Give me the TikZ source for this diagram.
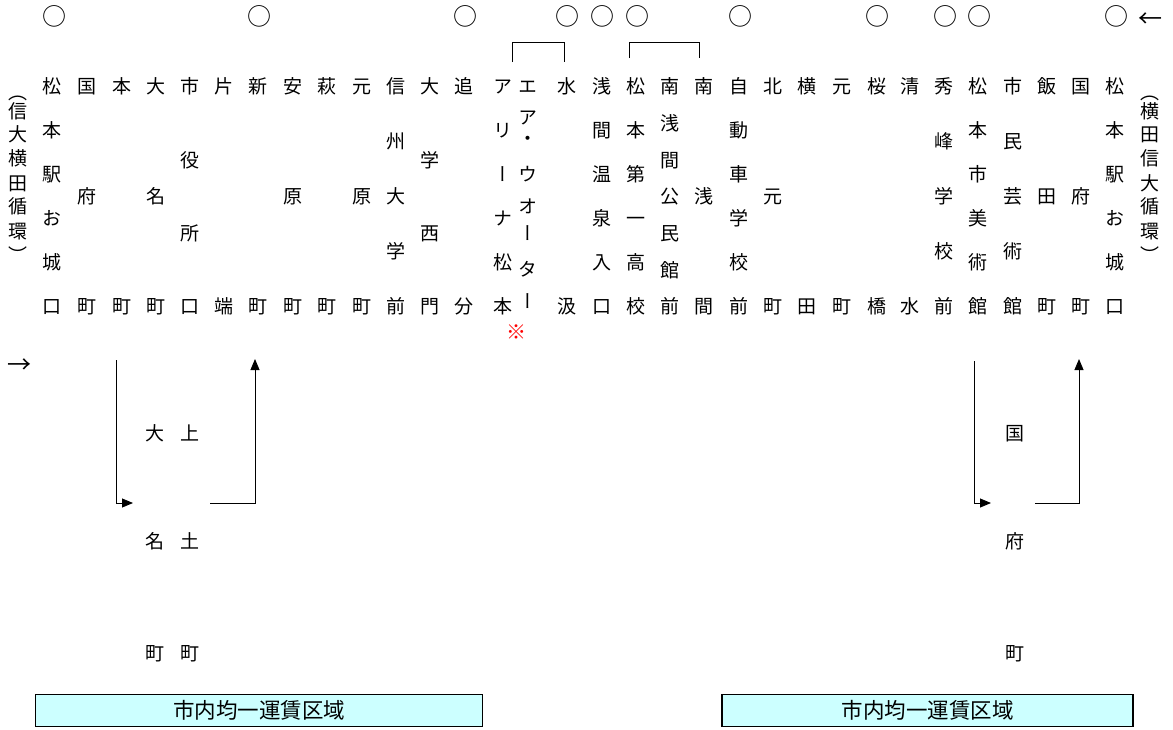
\documentclass[tikz,border=0pt]{standalone}
\usepackage{fontspec}
\newfontfamily\jp{Noto Sans CJK JP}
\newfontfamily\jpv[RawFeature={+vert}]{Noto Sans CJK JP}
\usetikzlibrary{arrows.meta}
\definecolor{zonefill}{HTML}{CCFFFF}
\tikzset{
  st/.style={font=\jpv\fontsize{19}{19}\selectfont, inner sep=0pt, anchor=center,
    text height=0.88em, text depth=0.12em, yshift=-5pt},
  stopmark/.style={font=\jp\fontsize{24}{24}\selectfont, inner sep=0pt},
  notemark/.style={font=\jp\fontsize{20}{20}\selectfont, inner sep=0pt, text=red},
  arrowtxt/.style={font=\jp\fontsize{24}{24}\selectfont, inner sep=0pt},
  zone/.style={draw=black, line width=1.8pt, fill=zonefill, inner sep=0pt,
    font=\jp\fontsize{21.5}{21.5}\selectfont},
  brk/.style={line width=0.9pt},
  looparrow/.style={line width=0.9pt, -{Triangle[length=11pt,width=9pt]}},
}
\newcommand\stcol[4]{%
  \foreach \ch [count=\i] in {#4}{%
    \node[st] (#1-\i) at (#2,{85+(\i-1)*220/(#3-1)}) {\ch};
  }%
}
\newcommand\poscol[3]{%
  \foreach \yy/\ch [count=\i] in {#3}{%
    \node[st] (#1-\i) at (#2,\yy) {\ch};
  }%
}
\begin{document}
\begin{tikzpicture}[x=1pt,y=-1pt]
\useasboundingbox (0,0) rectangle (1173,729);
% circles (stops)
\foreach \cx [count=\k] in {54,259.5,465.5,567.5,602.5,637,740,877.5,945,979.5,1116}{
  \node[stopmark] (c\k) at (\cx,16.5) {○};
}
\node[arrowtxt] (arrR) at (1150.5,20) {←};
\node[arrowtxt] (arrL) at (19,366) {→};
% brackets
\coordinate (bA1) at (512,62); \coordinate (bA2) at (564,62);
\coordinate (bB1) at (629,58); \coordinate (bB2) at (699,58);
\draw[brk] (bA1) -- (bA1 |- 0,42) -- (bA2 |- 0,42) -- (bA2);
\draw[brk] (bB1) -- (bB1 |- 0,42) -- (bB2 |- 0,42) -- (bB2);
% route labels
\poscol{pL}{18.5}{91/{\jp ︵},110/信,133/大,157/横,182/田,205/循,230/環,254/{\jp ︶}}
\poscol{pR}{1150}{91/{\jp ︵},110/横,133/田,157/信,182/大,205/循,230/環,254/{\jp ︶}}
% stations
\stcol{s1}{52.3}{6}{松,本,駅,お,城,口}
\stcol{s2}{87}{3}{国,府,町}
\stcol{s3}{121.7}{2}{本,町}
\stcol{s4}{156}{3}{大,名,町}
\stcol{s5}{190}{4}{市,役,所,口}
\stcol{s6}{224}{2}{片,端}
\stcol{s7}{258.3}{2}{新,町}
\stcol{s8}{292.7}{3}{安,原,町}
\stcol{s9}{327}{2}{萩,町}
\stcol{s10}{361.5}{3}{元,原,町}
\stcol{s11}{396}{5}{信,州,大,学,前}
\stcol{s12}{430}{4}{大,学,西,門}
\stcol{s13}{464.3}{2}{追,分}
\stcol{s14}{503.3}{6}{ア,リ,ー,ナ,松,本}
\poscol{s15}{528.3}{85/エ,116/ア,137/{\jp ・},173/ウ,205/オ,232/ー,268/タ,300/ー}
\stcol{s16}{566.7}{2}{水,汲}
\stcol{s17}{601.7}{6}{浅,間,温,泉,入,口}
\stcol{s18}{636}{6}{松,本,第,一,高,校}
\stcol{s19}{670}{7}{南,浅,間,公,民,館,前}
\stcol{s20}{704}{3}{南,浅,間}
\stcol{s21}{739}{6}{自,動,車,学,校,前}
\stcol{s22}{773.3}{3}{北,元,町}
\stcol{s23}{807.3}{2}{横,田}
\stcol{s24}{841.7}{2}{元,町}
\stcol{s25}{876.7}{2}{桜,橋}
\stcol{s26}{910}{2}{清,水}
\stcol{s27}{944.3}{5}{秀,峰,学,校,前}
\stcol{s28}{978.3}{6}{松,本,市,美,術,館}
\stcol{s29}{1012.7}{5}{市,民,芸,術,館}
\stcol{s30}{1046.7}{3}{飯,田,町}
\stcol{s31}{1081}{3}{国,府,町}
\stcol{s32}{1115}{6}{松,本,駅,お,城,口}
\node[notemark] (kome) at (516,332) {※};
% lower branch stations
\poscol{b1}{155}{432/大,540/名,652/町}
\poscol{b2}{190}{432/上,540/土,652/町}
\poscol{b3}{1015}{432/国,540/府,652/町}
% loops
\coordinate (L1a) at (116,360); \coordinate (L1b) at (116,503); \coordinate (L1c) at (133,503);
\coordinate (L2a) at (210,503); \coordinate (L2b) at (255,503); \coordinate (L2c) at (255,359);
\draw[looparrow] (L1a) -- (L1b) -- (L1c);
\draw[looparrow] (L2a) -- (L2b) -- (L2c);
\coordinate (R1a) at (974,361); \coordinate (R1b) at (974,503); \coordinate (R1c) at (991,503);
\coordinate (R2a) at (1035,503); \coordinate (R2b) at (1079,503); \coordinate (R2c) at (1079,359);
\draw[looparrow] (R1a) -- (R1b) -- (R1c);
\draw[looparrow] (R2a) -- (R2b) -- (R2c);
% fare zones
\node[zone, minimum width=447pt, minimum height=32pt] (zoneL) at (259,710.5) {市内均一運賃区域};
\node[zone, minimum width=411pt, minimum height=32pt] (zoneR) at (927.5,710.5) {市内均一運賃区域};
\end{tikzpicture}
\end{document}
